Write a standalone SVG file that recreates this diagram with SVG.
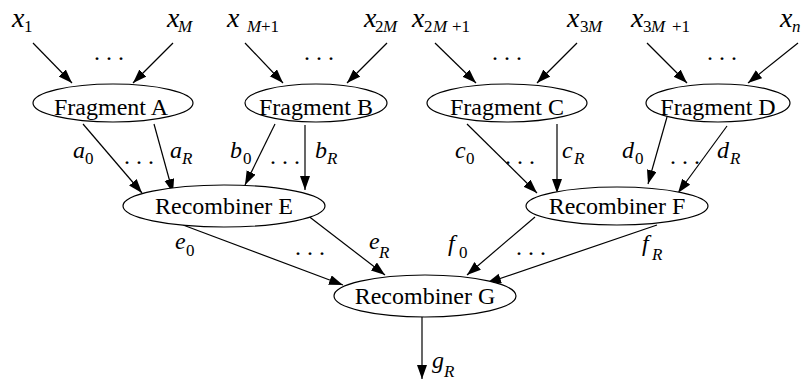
<svg xmlns="http://www.w3.org/2000/svg" width="801" height="380" viewBox="0 0 801 380">
<defs>
<marker id="arr" markerUnits="userSpaceOnUse" markerWidth="15" markerHeight="11" refX="14" refY="5" orient="auto">
<path d="M0,0 L14,5 L0,10 z" fill="#000"/>
</marker>
<style>
text{font-family:'Liberation Serif','Times New Roman','DejaVu Serif',serif}
.n ellipse{fill:#fff;stroke:#000;stroke-width:1.2}
.n text{font-size:24px;text-anchor:middle;fill:#000}
.e line{stroke:#000;stroke-width:1.2;marker-end:url(#arr)}
.l{font-style:italic;font-size:24px;fill:#000}
.big{font-size:28px}
.s{font-size:17px}
.u{font-style:normal}
.d{font-size:24px;text-anchor:middle;fill:#000}
</style>
</defs>
<rect width="801" height="380" fill="#fff"/>
<g id="edges" class="e">
<line x1="33" y1="43" x2="72" y2="83"/>
<line x1="173" y1="43" x2="133" y2="83"/>
<line x1="245" y1="43" x2="283" y2="83"/>
<line x1="387" y1="43" x2="347" y2="83"/>
<line x1="435" y1="43" x2="476" y2="83"/>
<line x1="577" y1="43" x2="537" y2="83"/>
<line x1="647" y1="43" x2="687" y2="83"/>
<line x1="798" y1="43" x2="748" y2="83"/>
<line x1="83" y1="124" x2="142" y2="193"/>
<line x1="154" y1="124" x2="173" y2="193"/>
<line x1="275" y1="124" x2="245" y2="185"/>
<line x1="305" y1="125" x2="305" y2="190"/>
<line x1="467" y1="124" x2="537" y2="193"/>
<line x1="557" y1="124" x2="557" y2="193"/>
<line x1="667" y1="117" x2="648" y2="184"/>
<line x1="727" y1="126" x2="678" y2="193"/>
<line x1="183" y1="225" x2="343" y2="285"/>
<line x1="307" y1="215" x2="385" y2="275"/>
<line x1="535" y1="217" x2="467" y2="275"/>
<line x1="657" y1="225" x2="487" y2="283"/>
<line x1="422" y1="317" x2="422" y2="379"/>
</g>
<g id="fragA" class="n"><ellipse cx="113" cy="103" rx="80" ry="19"/><text x="111" y="115" font-family="Liberation Serif, serif">Fragment A</text></g>
<g id="fragB" class="n"><ellipse cx="316" cy="103" rx="71" ry="19"/><text x="316" y="115" font-family="Liberation Serif, serif">Fragment B</text></g>
<g id="fragC" class="n"><ellipse cx="507" cy="103" rx="80" ry="19"/><text x="507" y="115" font-family="Liberation Serif, serif">Fragment C</text></g>
<g id="fragD" class="n"><ellipse cx="718" cy="103" rx="72" ry="19"/><text x="718" y="115" font-family="Liberation Serif, serif">Fragment D</text></g>
<g id="recE" class="n"><ellipse cx="224" cy="206" rx="101" ry="21"/><text x="224" y="214" font-family="Liberation Serif, serif">Recombiner E</text></g>
<g id="recF" class="n"><ellipse cx="617" cy="206" rx="91" ry="19"/><text x="617" y="214" font-family="Liberation Serif, serif">Recombiner F</text></g>
<g id="recG" class="n"><ellipse cx="425" cy="296" rx="91" ry="21"/><text x="425" y="304" font-family="Liberation Serif, serif">Recombiner G</text></g>
<g id="labels">
<text class="l"><tspan class="big" x="12" y="27">x</tspan><tspan class="s u" x="24" y="32">1</tspan></text>
<text class="l"><tspan class="big" x="167" y="27">x</tspan><tspan class="s" x="178" y="32">M</tspan></text>
<text class="l"><tspan class="big" x="227" y="27">x</tspan><tspan class="s" x="247" y="32">M</tspan><tspan class="s u" x="261" y="32">+1</tspan></text>
<text class="l"><tspan class="big" x="364" y="27">x</tspan><tspan class="s u" x="375" y="32">2</tspan><tspan class="s" x="383" y="32">M</tspan></text>
<text class="l"><tspan class="big" x="412" y="27">x</tspan><tspan class="s u" x="424" y="32">2</tspan><tspan class="s" x="433" y="32">M</tspan><tspan class="s u" x="452" y="32">+1</tspan></text>
<text class="l"><tspan class="big" x="567" y="27">x</tspan><tspan class="s u" x="580" y="32">3</tspan><tspan class="s" x="588" y="32">M</tspan></text>
<text class="l"><tspan class="big" x="631" y="27">x</tspan><tspan class="s u" x="643" y="32">3</tspan><tspan class="s" x="651" y="32">M</tspan><tspan class="s u" x="672" y="32">+1</tspan></text>
<text class="l"><tspan class="big" x="780" y="27">x</tspan><tspan class="s" x="792" y="32">n</tspan></text>
<text class="l"><tspan x="73" y="158">a</tspan><tspan class="s u" x="85" y="164">0</tspan></text>
<text class="l"><tspan x="170" y="158">a</tspan><tspan class="s" x="182" y="164">R</tspan></text>
<text class="l"><tspan x="230" y="158">b</tspan><tspan class="s u" x="243" y="164">0</tspan></text>
<text class="l"><tspan x="315" y="158">b</tspan><tspan class="s" x="327" y="164">R</tspan></text>
<text class="l"><tspan x="455" y="158">c</tspan><tspan class="s u" x="466" y="164">0</tspan></text>
<text class="l"><tspan x="562" y="158">c</tspan><tspan class="s" x="574" y="164">R</tspan></text>
<text class="l"><tspan x="622" y="158">d</tspan><tspan class="s u" x="635" y="164">0</tspan></text>
<text class="l"><tspan x="717" y="158">d</tspan><tspan class="s" x="730" y="164">R</tspan></text>
<text class="l"><tspan x="175" y="249">e</tspan><tspan class="s u" x="186" y="256">0</tspan></text>
<text class="l"><tspan x="369" y="249">e</tspan><tspan class="s" x="379" y="258">R</tspan></text>
<text class="l"><tspan x="448" y="251">f</tspan><tspan class="s u" x="459" y="258">0</tspan></text>
<text class="l"><tspan x="642" y="251">f</tspan><tspan class="s" x="652" y="260">R</tspan></text>
<text class="l"><tspan x="432" y="368">g</tspan><tspan class="s" x="444" y="377">R</tspan></text>
</g>
<g id="dots">
<text class="d" x="109" y="60">. . .</text>
<text class="d" x="319" y="60">. . .</text>
<text class="d" x="507" y="60">. . .</text>
<text class="d" x="722" y="60">. . .</text>
<text class="d" x="139" y="164">. . .</text>
<text class="d" x="285" y="164">. . .</text>
<text class="d" x="520" y="164">. . .</text>
<text class="d" x="685" y="164">. . .</text>
<text class="d" x="310" y="255">. . .</text>
<text class="d" x="531" y="255">. . .</text>
</g>
</svg>
